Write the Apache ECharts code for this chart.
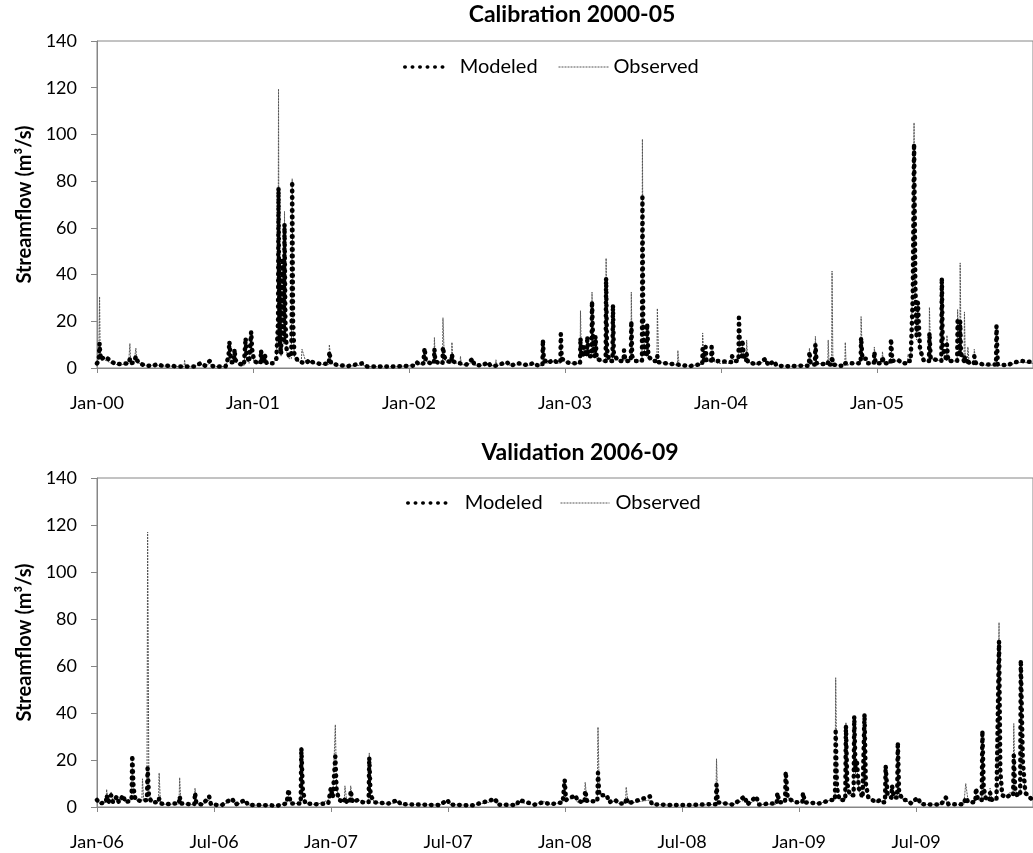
<!DOCTYPE html>
<html><head><meta charset="utf-8">
<script src="https://cdn.jsdelivr.net/npm/echarts@6/dist/echarts.min.js"></script>
<style>html,body{margin:0;padding:0;background:#fff}#chart{width:1033px;height:853px}</style>
</head><body><div id="chart"></div>
<script>
// ---------- Calibration 2000-05 (daily streamflow, m3/s) ----------
const calDates = [
'2000-01-01','2000-01-05','2000-01-07','2000-01-08','2000-01-10','2000-01-18','2000-01-25','2000-02-03','2000-02-15','2000-03-01','2000-03-15','2000-03-17','2000-03-18','2000-03-20','2000-03-28','2000-03-31','2000-04-01','2000-04-03','2000-04-08','2000-04-20','2000-05-10','2000-05-20','2000-06-05','2000-06-20','2000-07-10','2000-07-23','2000-07-24','2000-07-26','2000-08-15','2000-09-01','2000-09-10','2000-09-21','2000-09-28','2000-10-15','2000-10-28','2000-11-04','2000-11-06','2000-11-08','2000-11-11','2000-11-17','2000-11-18','2000-11-20','2000-11-27','2000-12-10','2000-12-13','2000-12-14','2000-12-16','2000-12-22','2000-12-26','2000-12-27','2000-12-29',
'2001-01-03','2001-01-12','2001-01-18','2001-01-19','2001-01-22','2001-01-27','2001-01-28','2001-02-01','2001-02-15','2001-02-24','2001-02-27','2001-02-28','2001-03-01','2001-03-02','2001-03-04','2001-03-07','2001-03-09','2001-03-10','2001-03-12','2001-03-14','2001-03-15','2001-03-17','2001-03-20','2001-03-26','2001-03-31','2001-04-01','2001-04-02','2001-04-04','2001-04-07','2001-04-15','2001-04-23','2001-04-25','2001-05-05','2001-05-12','2001-05-20','2001-06-05','2001-06-27','2001-06-28','2001-07-02','2001-07-20','2001-08-10','2001-09-13','2001-09-25','2001-10-20','2001-11-20','2001-12-20',
'2002-01-10','2002-01-18','2002-01-25','2002-02-03','2002-02-05','2002-02-06','2002-02-09','2002-02-20','2002-02-28','2002-03-01','2002-03-03','2002-03-12','2002-03-20','2002-03-21','2002-03-24','2002-03-29','2002-04-10','2002-04-11','2002-04-13','2002-04-22','2002-04-30','2002-05-01','2002-05-03','2002-05-15','2002-05-30','2002-06-02','2002-06-20','2002-07-05','2002-07-10','2002-07-22','2002-07-23','2002-07-26','2002-08-18','2002-08-25','2002-09-15','2002-10-05','2002-10-20','2002-10-28','2002-11-09','2002-11-10','2002-11-12','2002-11-20','2002-12-05','2002-12-12','2002-12-21','2002-12-22','2002-12-24',
'2003-01-05','2003-01-15','2003-02-05','2003-02-06','2003-02-08','2003-02-13','2003-02-14','2003-02-21','2003-02-22','2003-02-25','2003-03-04','2003-03-05','2003-03-07','2003-03-10','2003-03-12','2003-03-13','2003-03-16','2003-03-28','2003-04-06','2003-04-07','2003-04-09','2003-04-14','2003-04-22','2003-04-23','2003-04-25','2003-05-05','2003-05-18','2003-05-19','2003-05-22','2003-06-04','2003-06-05','2003-06-07','2003-06-15','2003-06-30','2003-07-01','2003-07-03','2003-07-06','2003-07-11','2003-07-12','2003-07-15','2003-07-25','2003-08-04','2003-08-05','2003-08-08','2003-08-25','2003-09-21','2003-09-22','2003-09-25','2003-10-20','2003-11-10','2003-11-18','2003-11-19','2003-11-22','2003-11-25','2003-11-26','2003-11-28','2003-12-09','2003-12-10','2003-12-13','2003-12-25',
'2004-01-26','2004-01-27','2004-02-05','2004-02-11','2004-02-12','2004-02-14','2004-02-19','2004-02-20','2004-02-24','2004-02-29','2004-03-01','2004-03-04','2004-03-25','2004-04-15','2004-04-20','2004-05-04','2004-05-10','2004-06-10','2004-07-05','2004-07-25','2004-07-26','2004-07-29','2004-08-08','2004-08-09','2004-08-12','2004-09-07','2004-09-08','2004-09-10','2004-09-16','2004-09-17','2004-09-19','2004-10-05','2004-10-17','2004-10-18','2004-10-20','2004-11-05','2004-11-23','2004-11-24','2004-11-27','2004-12-07','2004-12-10','2004-12-24','2004-12-25','2004-12-28',
'2005-01-12','2005-01-13','2005-01-16','2005-02-01','2005-02-02','2005-02-05','2005-02-18','2005-03-01','2005-03-13','2005-03-14','2005-03-20','2005-03-24','2005-03-25','2005-03-28','2005-03-31','2005-04-03','2005-04-06','2005-04-08','2005-04-11','2005-04-20','2005-05-02','2005-05-03','2005-05-06','2005-05-31','2005-06-01','2005-06-03','2005-06-12','2005-06-13','2005-06-16','2005-07-07','2005-07-08','2005-07-11','2005-07-13','2005-07-14','2005-07-16','2005-07-23','2005-07-24','2005-07-26','2005-07-31','2005-08-01','2005-08-04','2005-08-15','2005-08-16','2005-08-20','2005-09-10','2005-10-06','2005-10-07','2005-10-10','2005-11-01','2005-11-20','2005-12-05','2005-12-31'
];
const calModeled = [
2.0,3.0,10.5,7.5,3.5,4.8,4.2,2.8,1.6,1.8,2.0,2.0,3.8,2.0,2.5,2.5,5.0,3.5,2.2,1.2,0.8,1.6,0.8,1.0,0.6,0.6,0.8,0.7,0.6,2.2,1.0,3.0,0.8,0.6,0.7,5.0,11.2,6.5,2.5,2.5,8.0,3.5,2.0,1.2,1.5,12.8,6.0,2.5,2.5,15.5,8.0,
3.0,2.0,2.0,7.5,3.0,2.5,5.5,2.0,2.0,4.0,4,20,77,40,12,6,6,47,15,12,61.5,20,8,5,5,25,80,20,6,3,2.5,3,2,3.5,2.5,1.8,1.8,7,2,1.2,0.8,2,0.6,0.7,0.6,0.8,
1.0,2.5,1.5,2,2,8.5,3,2,2,8,3,2,2,9,5,3,2.5,6,3,2,2,2,1.8,1.5,4,1.5,1,2.5,1,1,1.2,1,2.5,1,2,1.2,2.2,1.2,1.2,12,4,2,3.5,2.5,2.5,14.5,4,
2.5,2,2,12.8,6,5,9,5,13.5,5,5,28.5,14,6,5,13.5,4,3,3,38.5,8,3,3,27,6,3,3,7.5,3,3,20,5,3,3,73,15,6,5,19,5,3,3,5,2.5,2,1.5,2,1.2,0.8,1.5,1.5,8,3,3,9,3,3,9,3,3,
2.5,5,3,3,21.5,10,5,12,4,3,6,2.5,1.5,4,1.2,3,1,0.7,1,1,7,1.5,1.5,10,2,1.5,3,1.5,1.5,5,1.5,1,1,2,1.2,2,2,13,4,4,2,2,7,2,
2,5,2,2,12.5,3,3.5,2,2,3,3,3,30,96,35,14,28,19,8,3,3,15,4,3,38.5,10,3,10,3,3,20,6,5,20,6,3,5,3,2.5,4,2,2,5,2,1.5,1.5,18,1.5,1.2,2.5,3,2.5
];
const calObserved = [
2.5,4,30.5,12,4,3.5,3,2,1.5,1.5,1.8,1.8,10.5,2.5,2.5,2.5,8.5,4,2,1.2,1.0,1.2,0.8,0.8,0.6,0.6,3.5,0.8,0.6,1.5,0.8,2.0,0.7,0.6,0.7,4,9,5,2,2,6,3,1.5,1.0,1.2,11,5,2,2,13,6,
2.5,2,2,6,2.5,2,4.5,2,2,4,4,30,119.5,45,10,5,5,44,12,10,67,18,7,4,4,30,81,18,5,3,2,8,2,3,2,1.5,1.5,10,2,1,0.8,1.2,0.6,0.6,0.6,0.8,
1.0,2,1.5,2,2,8,3,2,2,13,3,2,2,21.5,5,2.5,2,11,3,2,2,5,1.5,1.2,2.5,1.2,1,1.5,1,1,3.5,1,2,1,1.5,1,1.8,1,1,10,4,2,3,2,2,12,4,
2,2,2,24.5,5,5,8,5,12,6,5,32.5,12,5,5,12,4,3,3,47,10,3,3,27,5,3,3,6,3,3,32.5,5,3,3,98,20,6,5,16,5,3,3,25.5,2.5,2,1.2,7.5,1,0.8,1.5,1.5,15,3,3,7,3,3,7,3,2,
2,4,3,3,17,9,5,10,4,3,12,2.5,1.5,3,1,2.5,1,0.7,1,1,8.5,1.5,1.5,13.5,2,1.5,12,1.5,1.5,41.5,2,1,1,11,1,2,2,22,4,3,2,2,9,2,
2,7,2,2,10,3,3,2,2,6,3,3,40,105,30,12,29,16,7,3,3,26,4,3,38,8,3,14,3,3,25,6,5,45,8,3,24,3,2.5,9,2,2,8,2,1.2,1.2,3,1.2,1,2,2.5,2
];

// ---------- Validation 2006-09 ----------
const valDates = [
'2006-01-01','2006-01-05','2006-01-15','2006-01-16','2006-01-19','2006-01-22','2006-01-23','2006-01-26','2006-02-01','2006-02-04','2006-02-11','2006-02-14','2006-02-20','2006-02-24','2006-02-25','2006-02-27','2006-03-02','2006-03-12','2006-03-13','2006-03-15','2006-03-20','2006-03-21','2006-03-23','2006-03-27','2006-04-07','2006-04-08','2006-04-10','2006-04-20','2006-04-28','2006-05-09','2006-05-10','2006-05-12','2006-05-25','2006-06-02','2006-06-03','2006-06-05','2006-06-15','2006-06-25','2006-06-28','2006-07-15','2006-07-21','2006-07-31','2006-08-05','2006-08-20','2006-08-25','2006-09-20','2006-10-10','2006-10-24','2006-10-27','2006-10-30','2006-11-10','2006-11-15','2006-11-16','2006-11-18','2006-11-22','2006-12-10','2006-12-28',
'2007-01-01','2007-01-04','2007-01-07','2007-01-08','2007-01-10','2007-01-14','2007-01-22','2007-01-23','2007-01-26','2007-01-31','2007-02-01','2007-02-04','2007-02-12','2007-02-20','2007-03-01','2007-03-02','2007-03-04','2007-03-10','2007-04-01','2007-04-15','2007-04-20','2007-05-20','2007-06-20','2007-07-02','2007-07-06','2007-08-10','2007-09-15','2007-09-18','2007-10-18','2007-10-22','2007-11-15','2007-11-28','2007-12-10','2007-12-29',
'2008-01-01','2008-01-03','2008-01-18','2008-01-21','2008-02-01','2008-02-02','2008-02-05','2008-02-21','2008-02-22','2008-02-24','2008-03-07','2008-03-10','2008-03-20','2008-03-25','2008-04-05','2008-04-06','2008-04-09','2008-05-13','2008-05-16','2008-06-15','2008-07-15','2008-08-15','2008-08-24','2008-08-25','2008-08-27','2008-09-20','2008-10-08','2008-10-12','2008-10-26','2008-10-30','2008-11-15','2008-11-27','2008-11-28','2008-12-01','2008-12-10','2008-12-11','2008-12-14','2008-12-25',
'2009-01-06','2009-01-07','2009-01-10','2009-02-01','2009-02-20','2009-02-26','2009-02-27','2009-03-01','2009-03-05','2009-03-14','2009-03-15','2009-03-17','2009-03-21','2009-03-27','2009-03-28','2009-03-30','2009-04-01','2009-04-04','2009-04-10','2009-04-13','2009-04-15','2009-04-19','2009-05-01','2009-05-07','2009-05-10','2009-05-15','2009-05-16','2009-05-19','2009-05-25','2009-05-26','2009-05-29','2009-06-03','2009-06-04','2009-06-06','2009-06-12','2009-06-18','2009-06-25','2009-07-05','2009-07-10','2009-08-10','2009-08-18','2009-08-22','2009-09-15','2009-09-18','2009-09-22','2009-10-03','2009-10-04','2009-10-07','2009-10-13','2009-10-14','2009-10-16','2009-10-20','2009-10-25','2009-10-26','2009-10-29','2009-11-05','2009-11-08','2009-11-09','2009-11-11','2009-11-14','2009-11-21','2009-11-25','2009-12-01','2009-12-02','2009-12-04','2009-12-07','2009-12-12','2009-12-13','2009-12-16','2009-12-20','2009-12-31'
];
const valModeled = [
3,1.5,2,5,2,2,5,2,4.5,2,5,2,2.5,3,22,8,3,2.5,3,2.5,3,16.5,5,2,2,3.5,1.5,1.2,1.5,1.5,4.5,1.5,1.2,1.2,6,1.5,1,4.5,1,0.8,2,3.5,1,3,0.8,0.8,0.6,1.5,7.5,1.5,1.5,1.5,25,8,1.5,1.2,1.5,
8,4,4,21.5,7,3,2,4,2,2,7,2,3,2,2,21,5,2,1.5,3,1.2,1,0.8,3,1,0.7,3.5,1,0.8,3,1,2,1.2,2,
11.5,3,5,2.5,2,7,2.5,2.5,14.5,5,5,2,3,1.5,1.5,4,1.5,4.5,1.2,0.8,0.8,1.2,1.2,9.5,2,1,4.5,1,4.5,1,1.5,1.5,6,2,2,15,4,2,
2,6,2,1.5,3,3,32,8,3,3,34.5,10,5,5,38.5,15,20,8,4,39.5,10,4,2,3,2,2,17.5,5,4,9,4,4,27.5,6,3,3,1.5,4,1.2,1,4,1.2,1.2,4,2,2,8,3,3,32.5,8,3,3,6,3,3,3,70.5,15,5,4,5,5,22,8,5,5,62.5,20,6,3
];
const valObserved = [
3,1.5,2,7.5,2,2,6.5,2,3.5,2,3.5,2,2.5,3,20,6,3,2.5,12,2.5,3,117,6,2,2,14.5,1.5,1,1.2,1.2,12.5,1.5,1,1,8,1.5,1,3,1,0.8,1.5,2.5,1,2,0.8,0.7,0.6,1.5,5,1.5,1.5,1.5,25.5,7,1.5,1,3,
8,4,4,35,8,3,2,9,2,2,9,2,3,2.5,2,23,5,2,1.2,2,1,1,0.8,2.5,1,0.7,2.5,1,0.8,2,1,2.5,1,2,
8,3,4,2,2,10.5,2.5,2.5,34,6,4,2,2.5,1.5,1.5,8.5,1.5,3,1,0.8,0.7,1,1,20.5,2,1,3,1,3,1,1.2,1.2,5,2,2,15,4,2,
2,5,2,1.5,3,3,55,10,3,3,36,10,5,5,38,14,18,7,4,35,10,4,2,2.5,2,2,14,5,4,7,4,4,26,6,3,2.5,1.5,3,1,1,3,1,1,10,2,2,7,3,3,28,8,3,3,8,3,3,3,78.5,12,5,4,6,6,35.5,8,5,5,62,18,6,3
];

const yTicks = [0, 20, 40, 60, 80, 100, 120, 140];
const MONTHS = ['Jan','Feb','Mar','Apr','May','Jun','Jul','Aug','Sep','Oct','Nov','Dec'];
const FONT = 'Lato, "Open Sans", sans-serif';
const DAY = 86400000;

function toDays(y0, s) {
  const p = s.split('-').map(Number);
  return (Date.UTC(p[0], p[1] - 1, p[2]) - Date.UTC(y0, 0, 1)) / DAY;
}
function labelFor(y0) {
  return function (v) {
    const d = new Date(Date.UTC(y0, 0, 1) + Math.round(v) * DAY);
    let y = d.getUTCFullYear(), m = d.getUTCMonth();
    if (d.getUTCDate() > 15) { m++; if (m > 11) { m = 0; y++; } }
    return MONTHS[m] + '-' + String(y % 100).padStart(2, '0');
  };
}
function pairs(y0, dates, vals) { return dates.map((d, i) => [toDays(y0, d), vals[i]]); }

const GRAY = '#868686';
function xAxis(idx, y0, max, interval) {
  return {
    type: 'value', gridIndex: idx, min: 0, max: max, interval: interval,
    axisLine: { show: true, lineStyle: { color: GRAY, width: 1 } },
    axisTick: { show: true, inside: false, length: 5, lineStyle: { color: GRAY } },
    axisLabel: { formatter: labelFor(y0), margin: 26, color: '#000', fontSize: 18, fontFamily: FONT, showMaxLabel: false },
    splitLine: { show: false }
  };
}
function yAxis(idx) {
  return {
    type: 'value', gridIndex: idx, min: yTicks[0], max: yTicks[yTicks.length - 1], interval: yTicks[1] - yTicks[0],
    axisLine: { show: true, lineStyle: { color: GRAY, width: 1 } },
    axisTick: { show: true, inside: false, length: 6, lineStyle: { color: GRAY } },
    axisLabel: { margin: 20, color: '#000', fontSize: 18, fontFamily: FONT },
    splitLine: { show: false },
    name: 'Streamflow (m\u00B3/s)', nameLocation: 'middle', nameGap: 62,
    nameTextStyle: { fontSize: 20, fontWeight: 'bold', fontFamily: FONT, color: '#000' }
  };
}
const modeledStyle = { color: '#000', width: 4.5, type: [0.5, 6], cap: 'round', join: 'round' };
const observedStyle = { color: '#555', width: 1, type: [2, 1] };
const modeledLegendLine = { color: '#000', width: 3.5, type: [0.5, 7], cap: 'round' };
const observedLegendLine = { color: '#555', width: 1, type: [2, 1] };
function series(name, xi, data, style, z) {
  return { name: name, type: 'line', xAxisIndex: xi, yAxisIndex: xi, data: data,
    showSymbol: false, symbol: 'none', lineStyle: style, itemStyle: { color: style.color }, z: z, animation: false };
}
function legend(name, left, top, w, pad, lineStyle) {
  return { data: [name], left: left, top: top, itemWidth: w, itemHeight: 14, padding: 0,
    lineStyle: lineStyle,
    itemStyle: { color: 'transparent', borderColor: 'transparent', borderWidth: 0 },
    textStyle: { fontSize: 20, fontFamily: FONT, color: '#000', padding: [0, 0, 0, pad] } };
}

const chart = echarts.init(document.getElementById('chart'));
chart.setOption({
  backgroundColor: '#fff',
  animation: false,
  title: [
    { text: 'Calibration 2000-05', left: 572, top: 3, textAlign: 'center', padding: 0,
      textStyle: { fontSize: 23, fontWeight: 'bold', fontFamily: FONT, color: '#000' } },
    { text: 'Validation 2006-09', left: 580, top: 441, textAlign: 'center', padding: 0,
      textStyle: { fontSize: 23, fontWeight: 'bold', fontFamily: FONT, color: '#000' } }
  ],
  legend: [
    legend('Modeled', 403, 57, 45, 5, modeledLegendLine),
    legend('Observed', 558, 57, 50, 0, observedLegendLine),
    legend('Modeled', 406, 493, 45, 7, modeledLegendLine),
    legend('Observed', 560, 493, 49, 1, observedLegendLine)
  ],
  grid: [
    { left: 97, top: 41, width: 942, height: 327, show: true, borderColor: GRAY, borderWidth: 1, backgroundColor: 'transparent' },
    { left: 97, top: 478, width: 945, height: 329, show: true, borderColor: GRAY, borderWidth: 1, backgroundColor: 'transparent' }
  ],
  xAxis: [xAxis(0, 2000, 2191.5, 365.25), xAxis(1, 2006, 1461, 182.625)],
  yAxis: [yAxis(0), yAxis(1)],
  series: [
    series('Observed', 0, pairs(2000, calDates, calObserved), observedStyle, 2),
    series('Modeled', 0, pairs(2000, calDates, calModeled), modeledStyle, 3),
    series('Observed', 1, pairs(2006, valDates, valObserved), observedStyle, 2),
    series('Modeled', 1, pairs(2006, valDates, valModeled), modeledStyle, 3)
  ]
});
</script></body></html>
